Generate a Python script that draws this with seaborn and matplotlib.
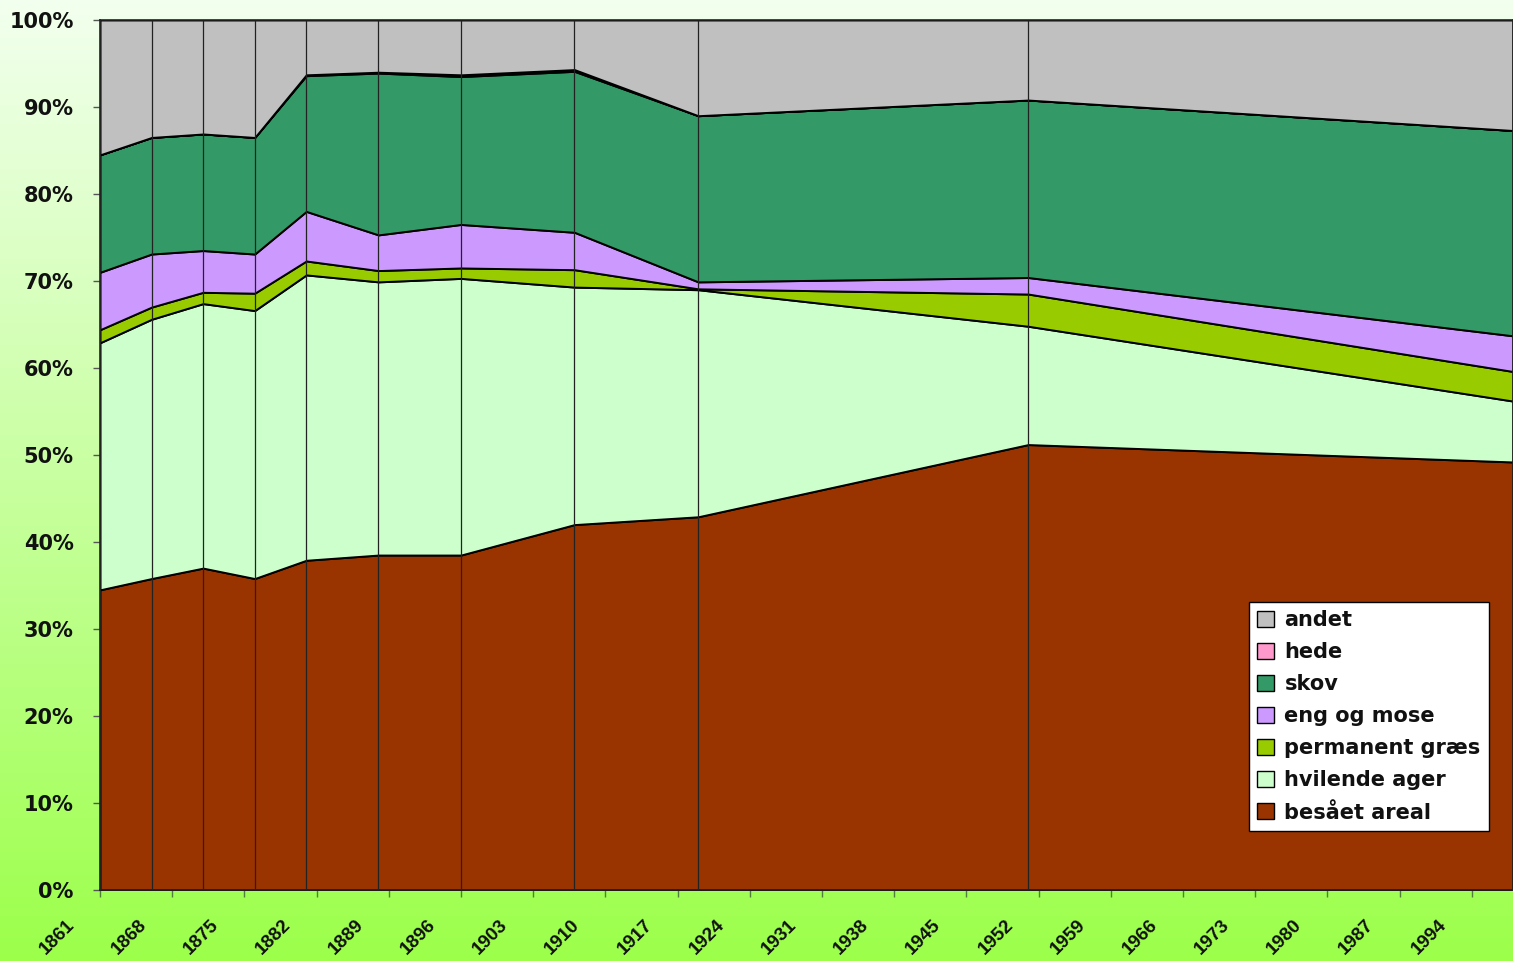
import numpy as np
import matplotlib
matplotlib.use("Agg")
import matplotlib.pyplot as plt
import matplotlib.transforms as mtransforms
from matplotlib.patches import Patch
from matplotlib.colors import LinearSegmentedColormap
import seaborn as sns

# land use in Denmark, share of total area (%)
years = [1861, 1866, 1871, 1876, 1881, 1888, 1896, 1907, 1919, 1951, 1998]
besaaet = [34.5, 35.8, 37.0, 35.8, 37.9, 38.5, 38.5, 42.0, 42.9, 51.2, 49.2]
hvilende = [28.4, 29.8, 30.4, 30.8, 32.8, 31.4, 31.8, 27.3, 26.1, 13.6, 7.0]
permanent = [1.5, 1.4, 1.3, 2.0, 1.6, 1.3, 1.2, 2.0, 0.1, 3.7, 3.4]
eng = [6.6, 6.1, 4.8, 4.5, 5.7, 4.1, 5.0, 4.3, 0.8, 1.9, 4.1]
skov = [13.5, 13.4, 13.4, 13.4, 15.6, 18.6, 17.0, 18.5, 19.1, 20.4, 23.6]
hede = [0.0, 0.0, 0.0, 0.0, 0.1, 0.1, 0.2, 0.2, 0.0, 0.0, 0.0]
andet = [15.5, 13.5, 13.1, 13.5, 6.3, 6.0, 6.3, 5.7, 11.0, 9.2, 12.7]

labels = ["besået areal", "hvilende ager", "permanent græs", "eng og mose",
          "skov", "hede", "andet"]
colors = ["#993300", "#CCFFCC", "#99CC00", "#CC99FF", "#339966", "#FF99CC", "#C0C0C0"]
series = [besaaet, hvilende, permanent, eng, skov, hede, andet]

sns.set_theme(style="ticks")
plt.rcParams['font.family'] = ['DejaVu Sans']

fig = plt.figure(figsize=(15.13, 9.61), dpi=100)

# background gradient
bg = fig.add_axes([0, 0, 1, 1], zorder=-10)
grad = np.linspace(0, 1, 256).reshape(-1, 1)
cmap = LinearSegmentedColormap.from_list("bg", ["#F2FFEE", "#C8FFA0", "#9CFF4A"])
bg.imshow(grad, aspect='auto', cmap=cmap, extent=[0, 1, 0, 1], origin='upper')
bg.axis('off')

ax = fig.add_axes([100/1513, 71/961, 1413/1513, 870/961])
ax.set_facecolor('none')
ax.stackplot(years, series, colors=colors, edgecolor='black', linewidth=1.4)
ax.vlines(years, 0, 100, colors='#222222', linewidth=0.9)

ax.set_xlim(1861, 1998)
ax.set_ylim(0, 100)
xt = list(range(1861, 1998, 7))
ax.set_xticks(xt)
ax.set_xticklabels([str(y) for y in xt], rotation=45, ha='right', va='top',
                   fontweight='bold', fontsize=13.5, family='Liberation Sans')
ax.set_yticks(range(0, 101, 10))
ax.set_yticklabels([f"{v}%" for v in range(0, 101, 10)], fontweight='bold', fontsize=15)
ax.tick_params(axis='y', length=5, width=1, color='#555555', pad=14, labelcolor='#111111')
ax.tick_params(axis='x', length=5, width=1, color='#4F7F3A', pad=14, labelcolor='#111111')
offset = mtransforms.ScaledTranslation(-0.22, 0, fig.dpi_scale_trans)
for lbl in ax.get_xticklabels():
    lbl.set_transform(lbl.get_transform() + offset)

for s in ax.spines.values():
    s.set_color('#222222')
    s.set_linewidth(1.2)

handles = [Patch(facecolor=c, edgecolor='black', linewidth=1, label=l)
           for l, c in zip(labels[::-1], colors[::-1])]
leg = ax.legend(handles=handles, loc='lower right', bbox_to_anchor=(0.983, 0.068),
                frameon=True, fancybox=False, framealpha=1, edgecolor='black',
                prop={'weight': 'bold', 'size': 15}, handlelength=0.8, handleheight=0.8,
                handletextpad=0.5, labelspacing=0.58, borderpad=0.4, borderaxespad=0)
leg.get_frame().set_linewidth(1)
for t in leg.get_texts():
    t.set_color('#111111')

fig.savefig("out.png", dpi=100)
